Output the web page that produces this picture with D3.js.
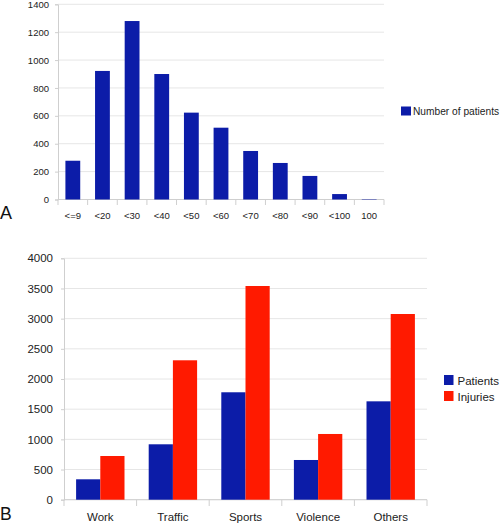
<!DOCTYPE html>
<html><head><meta charset="utf-8">
<script src="https://cdn.jsdelivr.net/npm/d3@7"></script>
<style>body{margin:0;background:#fff}svg{display:block;font-family:"Liberation Sans",Arial,sans-serif}</style>
</head><body>
<svg id="c" width="500" height="525"></svg>
<script>
const ageGroups = ["<=9","<20","<30","<40","<50","<60","<70","<80","<90","<100","100"];
const patientsByAge = [278,922,1280,900,623,515,348,262,169,39,3];
const ageTicks = [0,200,400,600,800,1000,1200,1400];

const causes = ["Work","Traffic","Sports","Violence","Others"];
const patientsByCause = [338,918,1780,658,1630];
const injuriesByCause = [724,2310,3541,1089,3077];
const causeTicks = [0,500,1000,1500,2000,2500,3000,3500,4000];
const seriesNames = ["Patients","Injuries"];

const BLUE = "#0c1ca8", RED = "#ff1a00", GRID = "#e6e6e6", AXIS = "#cfcfcf";
const FONT = "Liberation Sans, Arial, sans-serif";
const svg = d3.select("#c");

// ---- Chart A ----
{
  const g = svg.append("g");
  const x = d3.scaleBand().domain(ageGroups).range([58, 384]).paddingInner(0.5).paddingOuter(0.25);
  const y = d3.scaleLinear().domain([0, 1400]).range([199.5, 4.3]);
  g.selectAll(".grid").data(ageTicks).join("line")
    .attr("x1", 58).attr("x2", 384).attr("y1", d => y(d)).attr("y2", d => y(d))
    .attr("stroke", GRID).attr("stroke-width", 1);
  const ya = g.append("g").attr("transform", "translate(58,0)")
    .call(d3.axisLeft(y).tickValues(ageTicks).tickFormat(d3.format("d")).tickSize(3).tickPadding(6));
  ya.attr("font-family", FONT);
  ya.select(".domain").attr("stroke", AXIS);
  ya.selectAll(".tick line").attr("stroke", AXIS);
  ya.selectAll("text").attr("font-size", 9.5).attr("fill", "#222");
  const step = x.step();
  const bounds = d3.range(ageGroups.length + 1).map(i => 58 + i * step);
  g.selectAll(".xb").data(bounds).join("line")
    .attr("x1", d => d).attr("x2", d => d).attr("y1", 199.5).attr("y2", 205).attr("stroke", AXIS);
  g.append("line").attr("x1", 58).attr("x2", 384).attr("y1", 199.5).attr("y2", 199.5).attr("stroke", AXIS);
  g.selectAll(".bar").data(patientsByAge).join("rect")
    .attr("x", (d, i) => x(ageGroups[i])).attr("width", x.bandwidth())
    .attr("y", d => y(d)).attr("height", d => y(0) - y(d)).attr("fill", BLUE);
  g.selectAll(".xl").data(ageGroups).join("text")
    .attr("x", d => x(d) + x.bandwidth() / 2).attr("y", 218.5)
    .attr("text-anchor", "middle").attr("font-size", 9.5).attr("fill", "#222").text(d => d);
  g.append("rect").attr("x", 401).attr("y", 106.5).attr("width", 10).attr("height", 9).attr("fill", BLUE);
  g.append("text").attr("x", 413).attr("y", 114.5).attr("font-size", 10.2).attr("fill", "#222").text("Number of patients");
  svg.append("text").attr("x", 0).attr("y", 219).attr("font-size", 18).attr("fill", "#111").text("A");
}

// ---- Chart B ----
{
  const g = svg.append("g");
  const L = 64, R = 427;
  const x = d3.scaleBand().domain(causes).range([L, R]).paddingInner(1/3).paddingOuter(1/6);
  const xs = d3.scaleBand().domain(seriesNames).range([0, x.bandwidth()]);
  const y = d3.scaleLinear().domain([0, 4000]).range([499.7, 258.3]);
  g.selectAll(".grid").data(causeTicks).join("line")
    .attr("x1", L).attr("x2", R).attr("y1", d => y(d)).attr("y2", d => y(d))
    .attr("stroke", GRID).attr("stroke-width", 1);
  const ya = g.append("g").attr("transform", `translate(${L},0)`)
    .call(d3.axisLeft(y).tickValues(causeTicks).tickFormat(d3.format("d")).tickSize(3).tickPadding(8));
  ya.attr("font-family", FONT);
  ya.select(".domain").attr("stroke", AXIS);
  ya.selectAll(".tick line").attr("stroke", AXIS);
  ya.selectAll("text").attr("font-size", 11.5).attr("fill", "#222");
  const step = x.step();
  const bounds = d3.range(causes.length + 1).map(i => L + i * step);
  g.selectAll(".xb").data(bounds).join("line")
    .attr("x1", d => d).attr("x2", d => d).attr("y1", 499.7).attr("y2", 506).attr("stroke", AXIS);
  g.append("line").attr("x1", L).attr("x2", R).attr("y1", 499.7).attr("y2", 499.7).attr("stroke", AXIS);
  const rows = causes.map((c, i) => ({c, vals: [patientsByCause[i], injuriesByCause[i]]}));
  const color = d3.scaleOrdinal().domain(seriesNames).range([BLUE, RED]);
  g.selectAll(".grp").data(rows).join("g")
    .attr("transform", d => `translate(${x(d.c)},0)`)
    .selectAll("rect").data(d => d.vals.map((v, j) => ({k: seriesNames[j], v})))
    .join("rect")
    .attr("x", d => xs(d.k)).attr("width", xs.bandwidth())
    .attr("y", d => y(d.v)).attr("height", d => y(0) - y(d.v)).attr("fill", d => color(d.k));
  g.selectAll(".xl").data(causes).join("text")
    .attr("x", d => x(d) + x.bandwidth() / 2).attr("y", 521)
    .attr("text-anchor", "middle").attr("font-size", 11.5).attr("fill", "#222").text(d => d);
  const lg = g.selectAll(".lg").data(seriesNames).join("g")
    .attr("transform", (d, i) => `translate(444,${375 + i * 16})`);
  lg.append("rect").attr("width", 9.5).attr("height", 10).attr("fill", d => color(d));
  lg.append("text").attr("x", 13.5).attr("y", 9.5).attr("font-size", 11.5).attr("fill", "#222").text(d => d);
  svg.append("text").attr("x", 0).attr("y", 520).attr("font-size", 17.5).attr("fill", "#111").text("B");
}
</script>
</body></html>
